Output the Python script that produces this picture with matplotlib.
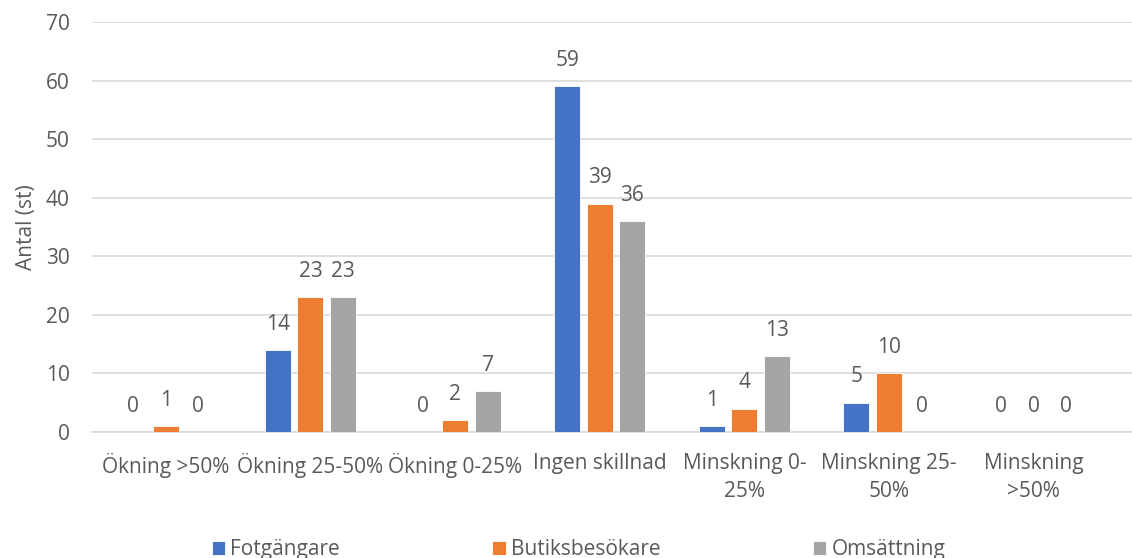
import numpy as np
import matplotlib.pyplot as plt

categories = ["Ökning >50%", "Ökning 25-50%", "Ökning 0-25%", "Ingen skillnad",
              "Minskning 0-\n25%", "Minskning 25-\n50%", "Minskning\n>50%"]
fotgangare = [0, 14, 0, 59, 1, 5, 0]
butiksbesokare = [1, 23, 2, 39, 4, 10, 0]
omsattning = [0, 23, 7, 36, 13, 0, 0]
series_names = ["Fotgängare", "Butiksbesökare", "Omsättning"]

plt.rcParams['font.family'] = ['Open Sans', 'DejaVu Sans']
text_col = '#595959'
fs = 15

fig = plt.figure(figsize=(11.32, 5.58), dpi=100)
ax = fig.add_axes([92/1132, 1 - 432/558, 1 - 92/1132, 410/558])

x = np.arange(len(categories))
w = 0.18
step = 0.225
colors = ['#4472C4', '#ED7D31', '#A5A5A5']
for i, (vals, name) in enumerate(zip([fotgangare, butiksbesokare, omsattning], series_names)):
    bars = ax.bar(x + (i - 1) * step, vals, w, color=colors[i], label=name,
                  edgecolor='white', linewidth=0.6, zorder=3)
    ax.bar_label(bars, padding=11, fontsize=fs, color=text_col)

ax.set_ylim(0, 70)
ax.set_xlim(-0.51, 6.68)
ax.set_yticks(range(0, 71, 10))
ax.set_xticks(x)
ax.set_xticklabels(categories, linespacing=1.45)
ax.tick_params(axis='both', length=0, labelsize=fs, labelcolor=text_col)
ax.tick_params(axis='x', pad=15)
ax.tick_params(axis='y', pad=16)
ax.grid(axis='y', color='#D9D9D9', linewidth=1.2, zorder=0)
for s in ['top', 'right', 'left']:
    ax.spines[s].set_visible(False)
ax.spines['bottom'].set_color('#D9D9D9')
ax.spines['bottom'].set_linewidth(1.2)
ax.set_ylabel("Antal (st)", fontsize=fs, color=text_col)
ax.yaxis.set_label_coords(-55/1040, 0.5)

fig.legend(loc='lower center', bbox_to_anchor=(0.511, -0.037), ncol=3, frameon=False,
           fontsize=fs, labelcolor=text_col, handlelength=0.65, handleheight=0.65,
           handletextpad=0.25, columnspacing=7.3)

fig.savefig('out.png', dpi=100)
